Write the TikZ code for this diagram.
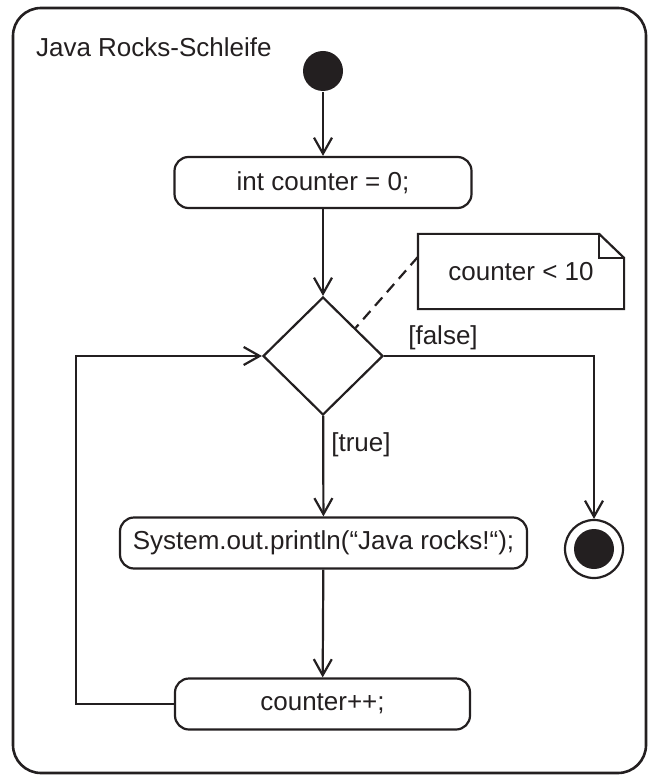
\documentclass[tikz,border=0pt]{standalone}
\usepackage{fontspec}
\setmainfont{Liberation Sans}
\usetikzlibrary{shapes.geometric, arrows.meta, calc}
\definecolor{ink}{HTML}{231F20}

\begin{document}
\begin{tikzpicture}[x=1pt, y=-1pt, color=ink, line width=2.2pt,
    every node/.style={font=\fontsize{26}{30}\selectfont, inner sep=0pt},
    action/.style={draw, rounded corners=14pt, minimum height=51pt},
    flow/.style={-{Straight Barb[length=16pt, width=18pt]}}]
    \useasboundingbox (0,0) rectangle (649,775);
    % Rahmen der Aktivitaet
    \draw[line width=2.6pt, rounded corners=28pt] (13,8) rectangle (646,773);
    \node[anchor=base west] (title) at (35,57) {Java Rocks-Schleife};
    % Start, Aktionen, Entscheidung
    \node[circle, fill, minimum size=40pt] (start) at (323,71) {};
    \node[action, minimum width=297pt] (init) at (323,182.5) {int counter = 0;};
    \node[diamond, draw, minimum width=120pt, minimum height=118pt] (dec) at (323,356) {};
    \node[action, minimum width=407pt] (print) at (323.5,543) {System.out.println(“Java rocks!“);};
    \node[action, minimum width=295pt] (inc) at (322.5,704) {counter++;};
    % Endknoten
    \node[circle, draw, minimum size=58pt] (final) at (594,549) {};
    \node[circle, fill, minimum size=40pt] (finalin) at (final) {};
    % Notiz mit Eselsohr
    \node[minimum width=204pt, minimum height=73pt] (note) at (521,271.5) {counter < 10};
    \draw (note.north west) -- ($(note.north east)+(-25,0)$) -- ($(note.north east)+(0,24)$)
        -- (note.south east) -- (note.south west) -- cycle;
    \draw ($(note.north east)+(-25,0)$) |- ($(note.north east)+(0,24)$);
    \coordinate (notelink) at ($(note.north west)+(0,23)$);
    \draw[dash pattern=on 11pt off 7pt] (notelink) -- ($(dec.north)!0.533!(dec.east)$);
    % Kontrollfluss
    \draw[flow] (start) -- (init);
    \draw[flow] (init) -- (dec);
    \draw[flow] (dec) -- (print);
    \draw[flow] (print) -- (inc);
    \draw[flow] (inc.west) -- ++(-98,0) |- (dec.west);
    \draw[flow] (dec.east) -| (final.north);
    % Waechter
    \node (truelbl) at (361,445) {[true]};
    \node (falselbl) at (443,338) {[false]};
\end{tikzpicture}
\end{document}
